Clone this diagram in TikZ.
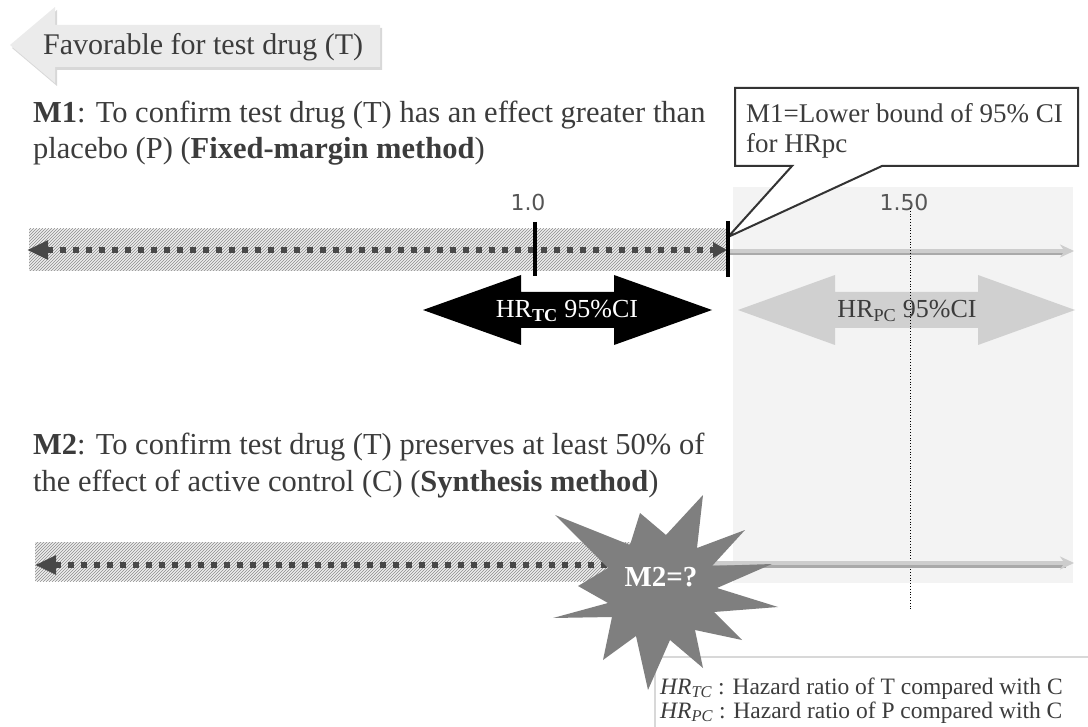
\documentclass[tikz,border=0pt]{standalone}
\usepackage{fontspec}
\setmainfont{Liberation Serif}
\newfontfamily\ticksans{DejaVu Sans}
\usetikzlibrary{arrows.meta,patterns,shadows}

\definecolor{inkgray}{HTML}{3C3C3C}
\definecolor{favfill}{HTML}{EBEBEB}
\definecolor{hatchbg}{HTML}{EDEDED}
\definecolor{hatchline}{HTML}{8C8C8C}
\definecolor{dotgray}{HTML}{484848}
\definecolor{panelgray}{HTML}{F3F3F3}
\definecolor{axislight}{HTML}{CDCDCD}
\definecolor{axisshade}{HTML}{A9A9A9}
\definecolor{cigray}{HTML}{D0D0D0}
\definecolor{burstgray}{HTML}{7F7F7F}
\definecolor{legendline}{HTML}{D8D8D8}
\definecolor{tickgray}{HTML}{555555}

\begin{document}
\begin{tikzpicture}[x=1pt,y=-1pt,
    every node/.style={inner sep=0pt,text=inkgray},
    bodytext/.style={anchor=base west,font=\fontsize{30.5}{36}\selectfont},
    band/.style={fill=hatchbg,postaction={pattern=north east lines,pattern color=hatchline}},
    dotaxis/.style={draw=dotgray,line width=6pt,dash pattern=on 6pt off 7pt},
    lightaxis/.style={draw=axislight,line width=4pt,-{Stealth[length=14pt,width=13pt]}},
    tickmark/.style={draw=black,line width=4pt},
    ticklabel/.style={font=\ticksans\fontsize{22}{26}\selectfont,text=tickgray},
    cilabel/.style={font=\fontsize{26}{30}\selectfont},
    legendtext/.style={anchor=base west,font=\fontsize{23.5}{28}\selectfont}]
    \useasboundingbox (0,0) rectangle (1088,727);

    % favorable direction
    \fill[favfill,drop shadow={shadow xshift=2pt,shadow yshift=-3pt,fill=black!30,opacity=0.5}]
        (10,45) -- (55,7) -- (55,25) -- (380,25) -- (380,67) -- (55,67) -- (55,83) -- cycle;
    \node[anchor=base west,font=\fontsize{30}{36}\selectfont] (fav) at (43,55) {Favorable for test drug (T)};

    % shaded region right of M1
    \fill[panelgray] (733,187) rectangle (1073,583);

    % M1 text
    \node[bodytext] (mone) at (33,123) {\textbf{M1}: To confirm test drug (T) has an effect greater than};
    \node[bodytext] (monb) at (33,159) {placebo (P) (\textbf{Fixed-margin method})};

    % callout
    \draw[draw=black!80,fill=white,line width=2pt,line join=miter]
        (735,88) -- (1078,88) -- (1078,166) -- (882,166) -- (728,237) -- (792,166) -- (735,166) -- cycle;
    \node[anchor=base west,font=\fontsize{27}{30}\selectfont] (calla) at (746,123) {M1=Lower bound of 95\% CI};
    \node[anchor=base west,font=\fontsize{27}{30}\selectfont] (callb) at (746,153) {for HRpc};

    % upper axis
    \fill[band] (29,229) rectangle (727,271); % hatched band
    \draw[draw=axisshade,line width=3pt] (730,254) -- (1066,254); % shade
    \draw[lightaxis] (728,251) -- (1074,251); % light axis
    \draw[dotaxis,{Triangle[length=21pt,width=18pt]}-{Triangle[length=14pt,width=15pt]}] (27,250) -- (727,250); % dotted axis
    \draw[tickmark] (535,222) -- (535,276); % 1.0
    \draw[tickmark] (728,221) -- (728,277); % lower bound
    \node[ticklabel] (one) at (528,202) {1.0};
    \node[ticklabel] (onefifty) at (904,202) {1.50};

    % confidence intervals
    \fill[black] (423,310) -- (521,275) -- (521,292) -- (614,292) -- (614,275) -- (712,310)
        -- (614,345) -- (614,328) -- (521,328) -- (521,345) -- cycle;
    \node[cilabel,text=white] (hrtc) at (567,311) {HR\textsubscript{\textbf{TC}} 95\%CI};
    \fill[cigray] (738,310) -- (835,275) -- (835,292) -- (978,292) -- (978,275) -- (1075,310)
        -- (978,345) -- (978,328) -- (835,328) -- (835,345) -- cycle;
    \draw[dotted,line width=0.8pt,black] (910,208) -- (910,610); % 1.50 line
    \node[cilabel] (hrpc) at (907,311) {HR\textsubscript{PC} 95\%CI};

    % M2 text
    \node[bodytext] (mtwa) at (33,455) {\textbf{M2}: To confirm test drug (T) preserves at least 50\% of};
    \node[bodytext] (mtwb) at (33,491) {the effect of active control (C) (\textbf{Synthesis method})};

    % lower axis
    \fill[band] (35,542) rectangle (632,581); % hatched band
    \draw[draw=axisshade,line width=3pt] (660,566) -- (1066,566); % shade
    \draw[lightaxis] (660,563) -- (1074,563); % light axis
    \draw[dotaxis,{Triangle[length=21pt,width=18pt]}-] (35,565) -- (650,565); % dotted axis

    % legend
    \draw[draw=legendline,fill=white,line width=1.5pt] (655,657) rectangle (1092,728);
    \node[legendtext] (legtc) at (660,694) {\textit{HR}\textsubscript{\textit{TC}} : Hazard ratio of T compared with C};
    \node[legendtext] (legpc) at (660,718) {\textit{HR}\textsubscript{\textit{PC}} : Hazard ratio of P compared with C};

    % unknown margin
    \fill[burstgray] (703,495) -- (697,548) -- (745,530) -- (712,566) -- (772,564) -- (717,588)
        -- (778,607) -- (714,612) -- (742,640) -- (695,630) -- (703,668) -- (670,640)
        -- (648,690) -- (636,636) -- (603,660) -- (612,617) -- (553,618) -- (608,603)
        -- (578,586) -- (608,568) -- (555,515) -- (630,545) -- (640,513) -- (666,535) -- cycle;
    \node[font=\bfseries\fontsize{29}{34}\selectfont,text=white] (mtwoq) at (661,577) {M2=?};
\end{tikzpicture}
\end{document}
